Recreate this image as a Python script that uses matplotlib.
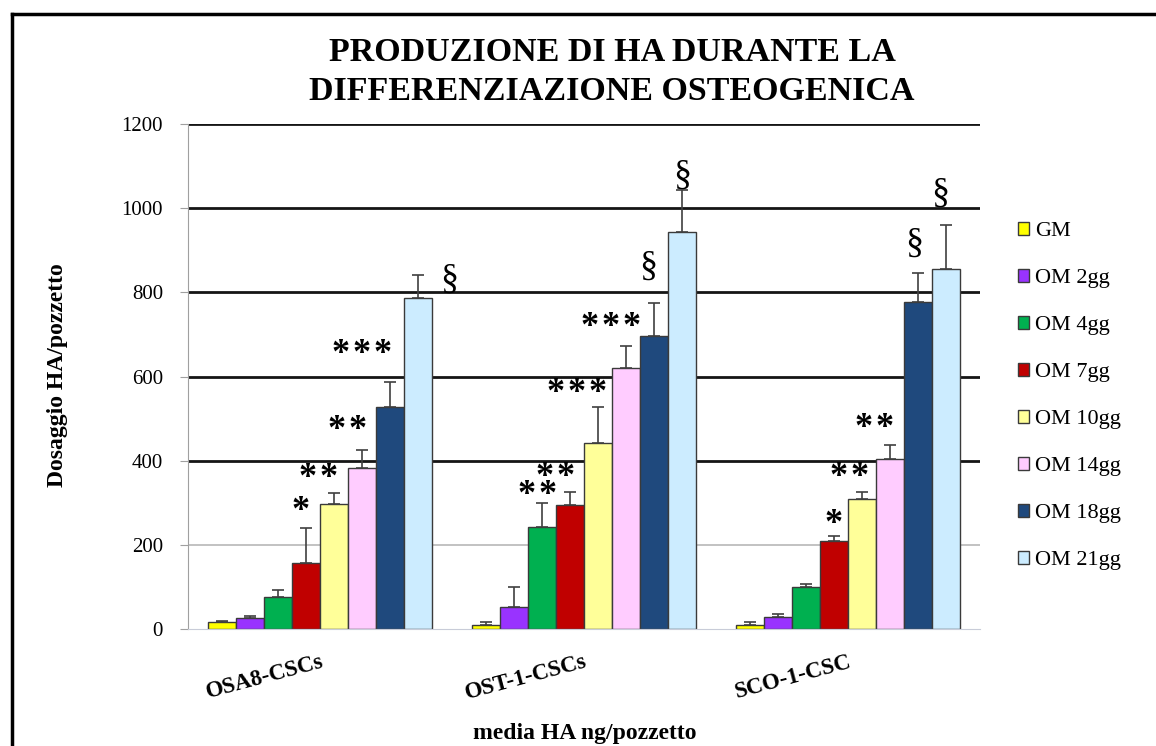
import matplotlib.pyplot as plt
import numpy as np
from matplotlib.lines import Line2D
from matplotlib.patches import Patch

# HA production per cell line, one value per culture condition
cell_lines = ['OSA8-CSCs', 'OST-1-CSCs', 'SCO-1-CSC']
conditions = ['GM', 'OM 2gg', 'OM 4gg', 'OM 7gg', 'OM 10gg', 'OM 14gg', 'OM 18gg', 'OM 21gg']
colors = ['#FFFF00', '#9933FF', '#00B050', '#C00000', '#FFFF99', '#FFCCFF', '#1F497D', '#CCECFF']

osa8_mean = [17, 27, 77, 158, 297, 382, 528, 787]
osa8_err = [3, 3, 16, 83, 25, 43, 58, 54]
ost1_mean = [10, 53, 243, 295, 443, 621, 696, 944]
ost1_err = [7, 47, 57, 31, 85, 51, 78, 99]
sco1_mean = [10, 29, 99, 208, 310, 404, 778, 855]
sco1_err = [6, 7, 8, 14, 16, 33, 69, 105]

yticks = [0, 200, 400, 600, 800, 1000, 1200]

# significance marks: (cell line, condition, text, x shift in bar widths, gap above error bar)
marks = [
    (0, 3, '*', -0.19, 47), (0, 4, '**', -0.57, 44), (0, 5, '**', -0.54, 56),
    (0, 6, '***', -1.0, 75), (0, 7, '§', 1.1, -9),
    (1, 2, '**', -0.19, 26), (1, 3, '**', -0.54, 44), (1, 4, '***', -0.75, 40),
    (1, 5, '***', -0.54, 55), (1, 6, '§', -0.22, 87), (1, 7, '§', 0.0, 36),
    (2, 3, '*', 0.0, 37), (2, 4, '**', -0.46, 44), (2, 5, '**', -0.57, 48),
    (2, 6, '§', -0.14, 70), (2, 7, '§', -0.2, 76),
]

means = np.array([osa8_mean, ost1_mean, sco1_mean])
errs = np.array([osa8_err, ost1_err, sco1_err])

plt.rcParams['font.family'] = ['Liberation Serif', 'DejaVu Serif']

W, H = 1156, 746
fig = plt.figure(figsize=(W / 100, H / 100), dpi=100)
ax = fig.add_axes([188 / W, 117 / H, 792 / W, 505 / H])

x = np.arange(len(cell_lines))
width = 28 / 264

# gridlines
for v in yticks[1:]:
    if v == 200:
        ax.axhline(v, color='#B8B8B8', lw=1.2, zorder=0)
    else:
        ax.axhline(v, color='#151515', lw=2.0, zorder=0)

for i, cond in enumerate(conditions):
    pos = x + (i - 3.5) * width
    ax.bar(pos, means[:, i], width, color=colors[i], edgecolor='#3A3A3A',
           linewidth=1.0, label=cond, zorder=2)
    ax.errorbar(pos, means[:, i], yerr=[np.zeros(len(x)), errs[:, i]], fmt='none',
                ecolor='#404040', elinewidth=1.2, capsize=4, capthick=1.2, zorder=3)

for g, c, txt, dx, dy in marks:
    xp = x[g] + (c - 3.5) * width + dx * width
    yp = means[g, c] + errs[g, c] + dy
    if txt == '§':
        ax.text(xp, yp, txt, ha='center', va='center', fontsize=26, zorder=4)
    else:
        # each asterisk drawn on its own so the spacing stays even
        n = len(txt)
        for k in range(n):
            ax.annotate('*', (xp, yp), xytext=((k - (n - 1) / 2) * 21, -4),
                        textcoords='offset pixels', ha='center', va='center',
                        fontsize=26, fontweight='bold', zorder=4)

ax.set_xlim(-0.5, 2.5)
ax.set_ylim(0, 1200)
ax.set_yticks(yticks)
ax.tick_params(axis='y', direction='out', length=6, color='#A0A0A0', labelsize=15, pad=12)
ax.set_xticks(x)
ax.set_xticklabels(cell_lines, rotation=15, ha='right', va='top', rotation_mode='anchor',
                   fontsize=16.5, fontweight='bold')
ax.tick_params(axis='x', length=0, pad=16)

for side in ['top', 'right']:
    ax.spines[side].set_visible(False)
ax.spines['left'].set_color('#A0A0A0')
ax.spines['bottom'].set_color('#C8CCD8')

fig.text(58 / W, 1 - 375 / H, 'Dosaggio HA/pozzetto', rotation=90, ha='center', va='center',
         fontsize=17, fontweight='bold')
fig.text(585 / W, 1 - 733 / H, 'media HA ng/pozzetto', ha='center', va='center',
         fontsize=17, fontweight='bold')
fig.text(612 / W, 1 - 72 / H, 'PRODUZIONE DI HA DURANTE LA\nDIFFERENZIAZIONE OSTEOGENICA',
         ha='center', va='center', fontsize=24.5, fontweight='bold', linespacing=1.3)

handles = [Patch(facecolor=c, edgecolor='#3A3A3A', linewidth=1.0) for c in colors]
fig.legend(handles, conditions, loc='upper left', bbox_to_anchor=(1018 / W, 1 - 222 / H),
           frameon=False, fontsize=16, handlelength=0.5, handleheight=0.5,
           handletextpad=0.25, labelspacing=1.25, borderpad=0, borderaxespad=0)

# outer frame
fig.add_artist(Line2D([12 / W, 1], [1 - 14 / H, 1 - 14 / H], transform=fig.transFigure,
                      color='black', lw=2.5))
fig.add_artist(Line2D([12 / W, 12 / W], [0, 1 - 14 / H], transform=fig.transFigure,
                      color='black', lw=2.5))

fig.savefig('out.png', dpi=100)
